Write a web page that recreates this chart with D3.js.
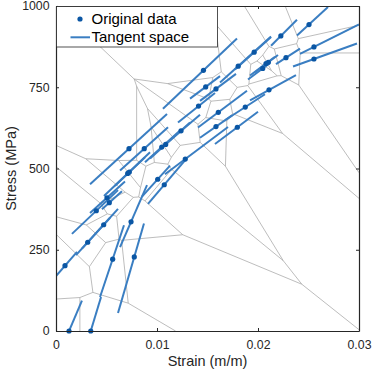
<!DOCTYPE html>
<html>
<head>
<meta charset="utf-8">
<script src="https://cdn.jsdelivr.net/npm/d3@7"></script>
<style>
  body { margin: 0; background: #fff; }
  svg { font-family: "Liberation Sans", Arial, sans-serif; }
  .axis text { font-size: 12.3px; fill: #262626; }
  .axis path, .axis line { stroke: #262626; }
</style>
</head>
<body>
<div id="chart"></div>
<script>
// sample points (strain, stress in MPa)
var strain = [0.00129, 0.00344, 0.00089, 0.00314, 0.00472, 0.00399, 0.00505, 0.00528, 0.00561, 0.00743,
              0.00775, 0.0071, 0.00726, 0.01007, 0.01072, 0.00723, 0.00874, 0.01047, 0.01086, 0.01238,
              0.0128, 0.01411, 0.0146, 0.01482, 0.01584, 0.01607, 0.01584, 0.01795, 0.01874, 0.01804,
              0.01962, 0.02102, 0.02079, 0.02047, 0.02109, 0.02226, 0.02277, 0.02505, 0.02554, 0.02554];
var stress = [0, 0, 201, 273, 327, 370, 410, 395, 221, 336,
              228, 485, 489, 467, 450, 561, 561, 566, 574, 616,
              529, 692, 802, 751, 745, 673, 629, 627, 689, 815,
              858, 827, 823, 808, 742, 908, 841, 943, 874, 837];
// tangent modulus (GPa) at each point
var modulus = [73.0, 102.6, 35.7, 34.2, 34.2, 29.5, 28.0, 28.0, 93.2, 71.5,
               107.2, 29.5, 29.5, 34.2, 36.7, 28.3, 28.0, 28.0, 28.0, 26.4,
               23.3, 24.9, 29.5, 23.3, 23.3, 23.3, 21.8, 23.3, 20.2, 28.0,
               28.0, 23.3, 23.3, 23.3, 17.1, 31.1, 19.9, 28.6, 15.5, 11.2];
// strain range covered by each tangent segment
var tanLo = [0, 0.00287, 0, 0.00198, 0.00257, 0.00158, 0.00337, 0.00455, 0.00436, 0.00634,
             0.00614, 0.00475, 0.00584, 0.00851, 0.00911, 0.00337, 0.00634, 0.00881, 0.00931, 0.0103,
             0.01079, 0.01208, 0.01059, 0.01327, 0.01426, 0.01406, 0.01426, 0.01574, 0.01673, 0.01624,
             0.01772, 0.0197, 0.01921, 0.01901, 0.01921, 0.02129, 0.02178, 0.02386, 0.02416, 0.02347];
var tanHi = [0.00257, 0.00446, 0.00208, 0.00535, 0.00614, 0.00614, 0.00683, 0.00653, 0.00673, 0.00901,
             0.00871, 0.00931, 0.00881, 0.01129, 0.01277, 0.01099, 0.01109, 0.01228, 0.01327, 0.01426,
             0.01703, 0.01574, 0.01792, 0.01624, 0.01782, 0.01891, 0.01743, 0.02, 0.02069, 0.02129,
             0.02129, 0.02198, 0.02168, 0.02119, 0.02376, 0.02386, 0.02416, 0.02693, 0.03, 0.0298];

var xTicks = [0, 0.01, 0.02, 0.03];
var yTicks = [0, 250, 500, 750, 1000];
var legendLabels = ['Original data', 'Tangent space'];

var w = 374, h = 370;
var margin = {top: 6, right: 15, bottom: 39, left: 56};
var innerW = w - margin.left - margin.right,
    innerH = h - margin.top - margin.bottom;

var dotColor = '#0a56a4', lineColor = '#3a7ec2';

var svg = d3.select('#chart').append('svg')
    .attr('width', w)
    .attr('height', h)
    .append('g')
    .attr('transform', 'translate(' + [margin.left, margin.top] + ')');

var x = d3.scaleLinear().domain([0, 0.03]).range([0, innerW]);
var y = d3.scaleLinear().domain([0, 1000]).range([innerH, 0]);

svg.append('clipPath').attr('id', 'clip')
  .append('rect').attr('width', innerW).attr('height', innerH);

var data = strain.map(function(s, i) {
    return {x: s, y: stress[i], E: modulus[i] * 1000, lo: tanLo[i], hi: tanHi[i]};
});

// Voronoi cells of the points, in screen space
var delaunay = d3.Delaunay.from(data, function(d) { return x(d.x); }, function(d) { return y(d.y); });
var vor = delaunay.voronoi([0, 0, innerW, innerH]);
svg.append('path')
    .attr('d', vor.render())
    .attr('fill', 'none')
    .attr('stroke', '#a0a0a0')
    .attr('stroke-width', 0.7);

// tangent segments
svg.append('g').attr('clip-path', 'url(#clip)')
  .selectAll('line.tan')
    .data(data)
  .enter().append('line')
    .attr('class', 'tan')
    .attr('x1', function(d) { return x(d.lo); })
    .attr('y1', function(d) { return y(d.y + d.E * (d.lo - d.x)); })
    .attr('x2', function(d) { return x(d.hi); })
    .attr('y2', function(d) { return y(d.y + d.E * (d.hi - d.x)); })
    .attr('stroke', lineColor)
    .attr('stroke-width', 2);

svg.selectAll('circle.pt')
    .data(data)
  .enter().append('circle')
    .attr('class', 'pt')
    .attr('cx', function(d) { return x(d.x); })
    .attr('cy', function(d) { return y(d.y); })
    .attr('r', 2.6)
    .attr('fill', dotColor);

// axes, MATLAB style: ticks inside, box
svg.append('g').attr('class', 'x axis')
    .attr('transform', 'translate(0,' + innerH + ')')
    .call(d3.axisBottom(x).tickValues(xTicks).tickFormat(d3.format('')).tickSizeInner(-3).tickSizeOuter(0).tickPadding(9.5));
svg.append('g').attr('class', 'y axis')
    .call(d3.axisLeft(y).tickValues(yTicks).tickFormat(d3.format('d')).tickSizeInner(-3).tickSizeOuter(0).tickPadding(6.5));
svg.append('g').attr('class', 'axis')
    .call(d3.axisTop(x).tickValues(xTicks).tickFormat('').tickSizeInner(-3).tickSizeOuter(0));
svg.append('g').attr('class', 'axis')
    .attr('transform', 'translate(' + innerW + ',0)')
    .call(d3.axisRight(y).tickValues(yTicks).tickFormat('').tickSizeInner(-3).tickSizeOuter(0));
svg.selectAll('.axis .domain').attr('stroke-width', 1.2);

svg.append('text')
    .attr('x', innerW / 2)
    .attr('y', innerH + 35)
    .attr('text-anchor', 'middle')
    .style('font-size', '14.5px')
    .attr('fill', '#262626')
    .text('Strain (m/m)');
svg.append('text')
    .attr('transform', 'translate(-40,' + innerH / 2 + ') rotate(-90)')
    .attr('text-anchor', 'middle')
    .style('font-size', '14.5px')
    .attr('fill', '#262626')
    .text('Stress (MPa)');

// legend
var lg = svg.append('g').attr('class', 'legend');
lg.append('rect')
    .attr('x', 0.5).attr('y', 0.5)
    .attr('width', 161).attr('height', 40.5)
    .attr('fill', '#fff')
    .attr('stroke', '#262626')
    .attr('stroke-width', 0.8);
lg.append('circle').attr('cx', 24).attr('cy', 13).attr('r', 2.6).attr('fill', dotColor);
lg.append('line')
    .attr('x1', 14.5).attr('x2', 34).attr('y1', 31.3).attr('y2', 31.3)
    .attr('stroke', lineColor).attr('stroke-width', 2);
lg.selectAll('text')
    .data(legendLabels)
  .enter().append('text')
    .attr('x', 35.5)
    .attr('y', function(d, i) { return 17.5 + i * 18.3; })
    .style('font-size', '15px')
    .attr('fill', '#000')
    .text(function(d) { return d; });
</script>
</body>
</html>
